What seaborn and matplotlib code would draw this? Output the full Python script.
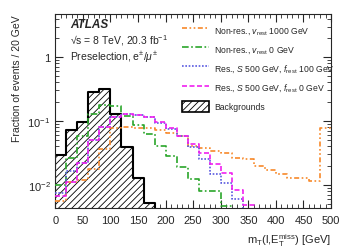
import numpy as np
import pandas as pd
import matplotlib
matplotlib.use("Agg")
import matplotlib.pyplot as plt
from matplotlib.lines import Line2D
from matplotlib.patches import Patch
from matplotlib.ticker import MultipleLocator, LogLocator, FuncFormatter, NullFormatter
import seaborn as sns

# ── data: fraction of events per 20 GeV bin, m_T from 0 to 500 GeV ─────────
centers = np.arange(10, 500, 20)

backgrounds = [0.029, 0.071, 0.095, 0.28, 0.32, 0.13, 0.039, 0.0127, 0.0052, 0,
               0, 0, 0, 0, 0, 0, 0, 0, 0, 0, 0, 0, 0, 0, 0]
nonres_v1000 = [0.0055, 0.011, 0.012, 0.018, 0.036, 0.078, 0.080, 0.077, 0.078, 0.072,
                0.064, 0.059, 0.040, 0.038, 0.034, 0.032, 0.026, 0.025, 0.020, 0.0168,
                0.0149, 0.013, 0.0127, 0.0114, 0.077]
nonres_v0 = [0.010, 0.026, 0.058, 0.13, 0.18, 0.17, 0.12, 0.085, 0.062, 0.041,
             0.028, 0.019, 0.0125, 0.0081, 0.0081, 0.0047, 0, 0, 0, 0,
             0, 0, 0, 0, 0]
res_f100 = [0.0075, 0.0167, 0.022, 0.050, 0.080, 0.115, 0.13, 0.122, 0.114, 0.093,
            0.075, 0.058, 0.039, 0.0255, 0.015, 0.0106, 0.006, 0, 0, 0,
            0, 0, 0, 0, 0]
res_f0 = [0.0067, 0.011, 0.022, 0.050, 0.080, 0.115, 0.13, 0.122, 0.114, 0.095,
          0.077, 0.059, 0.043, 0.031, 0.021, 0.0152, 0.0084, 0.0048, 0, 0,
          0, 0, 0, 0, 0]

labels = [r"Non-res., $v_{\rm rest}$ 1000 GeV",
          r"Non-res., $v_{\rm rest}$ 0 GeV",
          r"Res., $S$ 500 GeV, $f_{\rm rest}$ 100 GeV",
          r"Res., $S$ 500 GeV, $f_{\rm rest}$ 0 GeV"]
signals = [nonres_v1000, nonres_v0, res_f100, res_f0]
colors = ["#f7892a", "#2aa52a", "#5a5ae0", "#f020f0"]
styles = [(0, (3, 1.5, 1, 1.5, 1, 1.5)), (0, (4, 1.5, 1, 1.5)), (0, (1, 1)), (0, (3, 1.5))]

# ── style ─────────────────────────────────────────────────────────────────
sns.set_style("ticks")
plt.rcParams["font.family"] = ["Liberation Sans", "DejaVu Sans"]
plt.rcParams["mathtext.fontset"] = "custom"
plt.rcParams["mathtext.rm"] = "Liberation Sans"
plt.rcParams["mathtext.it"] = "Liberation Sans:italic"
plt.rcParams["mathtext.bf"] = "Liberation Sans:bold"
plt.rcParams["hatch.linewidth"] = 0.6

fig = plt.figure(figsize=(3.49, 2.51), dpi=100)
ax = fig.add_axes([0.1585, 0.166, 0.79, 0.774])

# backgrounds: hatched filled step histogram
bkg_df = pd.DataFrame({"mt": centers, "frac": backgrounds})
sns.histplot(data=bkg_df, x="mt", weights="frac", binwidth=20, binrange=(0, 500),
             element="step", fill=True, facecolor="white", edgecolor="black",
             hatch="/////", linewidth=1.5, ax=ax, zorder=1)

for vals, col, ls in zip(signals, colors, styles):
    df = pd.DataFrame({"mt": centers, "frac": vals})
    sns.histplot(data=df, x="mt", weights="frac", binwidth=20, binrange=(0, 500),
                 element="step", fill=False, color=col, linestyle=ls,
                 linewidth=1.2, ax=ax, zorder=3)

ax.set_yscale("log")
ax.set_xlim(0, 500)
ax.set_ylim(0.0043, 4.7)

ax.xaxis.set_major_locator(MultipleLocator(50))
ax.xaxis.set_minor_locator(MultipleLocator(10))
ax.yaxis.set_major_locator(LogLocator(base=10))
ax.yaxis.set_minor_locator(LogLocator(base=10, subs=np.arange(2, 10)))
ax.yaxis.set_minor_formatter(NullFormatter())
ax.yaxis.set_major_formatter(FuncFormatter(
    lambda v, p: "1" if abs(v - 1) < 1e-9 else r"$10^{%d}$" % round(np.log10(v))))
ax.tick_params(which="both", direction="in", top=True, right=True, labelsize=8)
ax.tick_params(which="major", length=6, width=0.8)
ax.tick_params(which="minor", length=3, width=0.6)
ax.tick_params(axis="x", which="major", pad=5)
for s in ax.spines.values():
    s.set_linewidth(0.8)

ax.set_xlabel(r"m$_{\rm T}$(l,E$_{\rm T}^{\rm miss}$) [GeV]", fontsize=8, loc="right")
ax.set_ylabel("Fraction of events / 20 GeV", fontsize=7.5, loc="top")

ax.text(0.053, 0.948, "ATLAS", transform=ax.transAxes, fontsize=8.5,
        fontweight="bold", fontstyle="italic", va="center")
ax.text(0.053, 0.866, "√s = 8 TeV, 20.3 fb$^{-1}$", transform=ax.transAxes,
        fontsize=7.5, va="center")
ax.text(0.053, 0.784, r"Preselection, e$^{\pm}$/$\mu^{\pm}$", transform=ax.transAxes,
        fontsize=7.5, va="center")

handles = [Line2D([], [], color=c, linestyle=ls, linewidth=1.2)
           for c, ls in zip(colors, styles)]
handles.append(Patch(facecolor="white", edgecolor="black", hatch="/////", linewidth=1.2))
ax.legend(handles, labels + ["Backgrounds"], loc="upper left",
          bbox_to_anchor=(0.43, 0.99), frameon=False, fontsize=6.2,
          handlelength=3.2, handleheight=1.6, labelspacing=0.85, handletextpad=0.6)

fig.savefig("out.png", dpi=100)
plt.close(fig)
